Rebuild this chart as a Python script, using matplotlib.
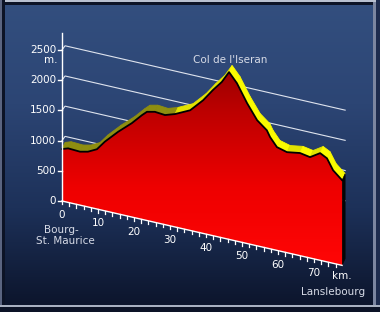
import numpy as np
import matplotlib
matplotlib.use("Agg")
import matplotlib.pyplot as plt
from matplotlib.patches import Polygon, Rectangle
from matplotlib.colors import LinearSegmentedColormap

# road profile Bourg-St. Maurice -> Col de l'Iseran -> Lanslebourg
km = [0, 1.7, 5, 7.2, 9.7, 11.9, 15.6, 19.4, 22.2, 23.6, 25.8, 28.6, 31.4, 35.6,
      39.2, 41.9, 44.4, 46.4, 48.6, 51.4, 54.2, 56.9, 57.8, 59.7, 62.5, 66.1,
      68.9, 71.7, 73.6, 75.3, 77.8]
alt = [860, 895, 885, 915, 990, 1145, 1360, 1555, 1725, 1800, 1830, 1815, 1870,
       1990, 2205, 2410, 2580, 2770, 2615, 2325, 2080, 1950, 1850, 1710, 1665,
       1700, 1670, 1775, 1715, 1540, 1410]

alt_ticks = [0, 500, 1000, 1500, 2000, 2500]
km_ticks = [0, 10, 20, 30, 40, 50, 60, 70]
grid_levels = [1000, 1500, 2000, 2500]

# fake 3d: baseline drops SHEAR m per km, top face depth DX/DY
SHEAR = 13.7
DX, DY = 0.85, 110
GDY = 70

W, H = 380, 312
fig = plt.figure(figsize=(W / 100, H / 100), dpi=100)
ax = fig.add_axes([0, 0, 1, 1])
ax.set_xlim(-17.22, 88.33)
ax.set_ylim(-1838, 3328)
ax.axis("off")


def proj(k, a):
    return k, a - SHEAR * k


# background gradient
bg = LinearSegmentedColormap.from_list("bg", ["#0b1329", "#1d3159", "#2c4574", "#334f7f"])
grad = np.linspace(0, 1, 256).reshape(-1, 1)
ax.imshow(grad, cmap=bg, aspect="auto", origin="lower",
          extent=[-17.22, 88.33, -1838, 3328], zorder=0)

# grid lines on the back plane
kend = km[-1]
for g in grid_levels:
    x0, y0 = proj(0, g)
    x1, y1 = proj(kend, g)
    ax.plot([x0, x0 + DX, x1 + DX], [y0, y0 + GDY, y1 + GDY],
            color="#dfe4ee", lw=0.8, zorder=1)

pts = [proj(k, a) for k, a in zip(km, alt)]
px = np.array([p[0] for p in pts])
py = np.array([p[1] for p in pts])

# top face, shaded per segment
for i in range(len(pts) - 1):
    if km[i + 1] <= 31.4:
        c = "#8e8e10"
    elif alt[i + 1] < alt[i]:
        c = "#fbfb00"
    else:
        c = "#e2e200"
    quad = [(px[i], py[i]), (px[i + 1], py[i + 1]),
            (px[i + 1] + DX, py[i + 1] + DY), (px[i] + DX, py[i] + DY)]
    ax.add_patch(Polygon(quad, closed=True, facecolor=c, edgecolor=c, lw=0.6, zorder=2))

# dark side face at the end
bx, by = proj(kend, 0)
side = [(px[-1], py[-1]), (bx, by), (bx + DX, by + DY), (px[-1] + DX, py[-1] + DY)]
ax.add_patch(Polygon(side, closed=True, facecolor="#050505", edgecolor="#050505", lw=0.4, zorder=2))

# red front face with vertical gradient
face = list(zip(px, py)) + [(bx, by), (0, 0)]
poly = Polygon(face, closed=True, facecolor="none", edgecolor="none", zorder=3)
ax.add_patch(poly)
red = LinearSegmentedColormap.from_list("red", ["#ff0606", "#ee0000", "#bb0000", "#7c0000"])
im = ax.imshow(grad, cmap=red, aspect="auto", origin="lower",
               extent=[0, kend, by, 2800], zorder=3)
im.set_clip_path(poly)
ax.plot(px, py, color="black", lw=1.3, zorder=4, solid_joinstyle="round")

# y axis
ax.plot([0, 0], [0, 2780], color="white", lw=1, zorder=5)
for a in alt_ticks:
    ax.plot([-1.1, 0], [a, a], color="white", lw=1, zorder=5)
    ax.text(-1.6, a, str(a), ha="right", va="center", color="white", fontsize=7.5, zorder=5)
ax.text(-3.0, 2335, "m.", ha="center", va="center", color="white", fontsize=7.5)

# x axis along the sheared baseline
ax.plot([0, kend], [0, -SHEAR * kend], color="white", lw=1, zorder=5)
for k in range(0, 78, 2):
    x, y = proj(k, 0)
    ax.plot([x, x], [y, y - 55], color="white", lw=0.9, zorder=5)
for k in km_ticks:
    x, y = proj(k, 0)
    ax.text(x, y - 232, str(k), ha="center", va="center", color="white", fontsize=7.5)
ax.text(kend, -SHEAR * kend - 168, "km.", ha="center", va="center", color="white", fontsize=7.5)

lab = "#d6dae6"
ax.text(-0.3, -480, "Bourg-", ha="center", va="center", color=lab, fontsize=7.5)
ax.text(0.8, -662, "St. Maurice", ha="center", va="center", color=lab, fontsize=7.5)
ax.text(75.3, -1507, "Lanslebourg", ha="center", va="center", color=lab, fontsize=7.5)
ax.text(46.7, 2334, "Col de l'Iseran", ha="center", va="center", color=lab, fontsize=7.5)


# frame
def frame(x, y, w, h, c):
    ax.add_patch(Rectangle((x / W, 1 - (y + h) / H), w / W, h / H, transform=ax.transAxes,
                           facecolor=c, edgecolor="none", zorder=10))


frame(0, 0, W, 1.5, "#b8c0d0")
frame(0, 1.5, W, 3, "#0c1326")
frame(0, 0, 2, H, "#5a6480")
frame(2, 0, 3, H, "#0c1326")
frame(373, 2, 3, 304, "#7c86a0")
frame(376, 0, 4, H, "#1e2c4e")
frame(0, 305, W, 2, "#a8b0c0")
frame(0, 307, W, 5, "#0c1326")

fig.savefig("out.png", dpi=100)
